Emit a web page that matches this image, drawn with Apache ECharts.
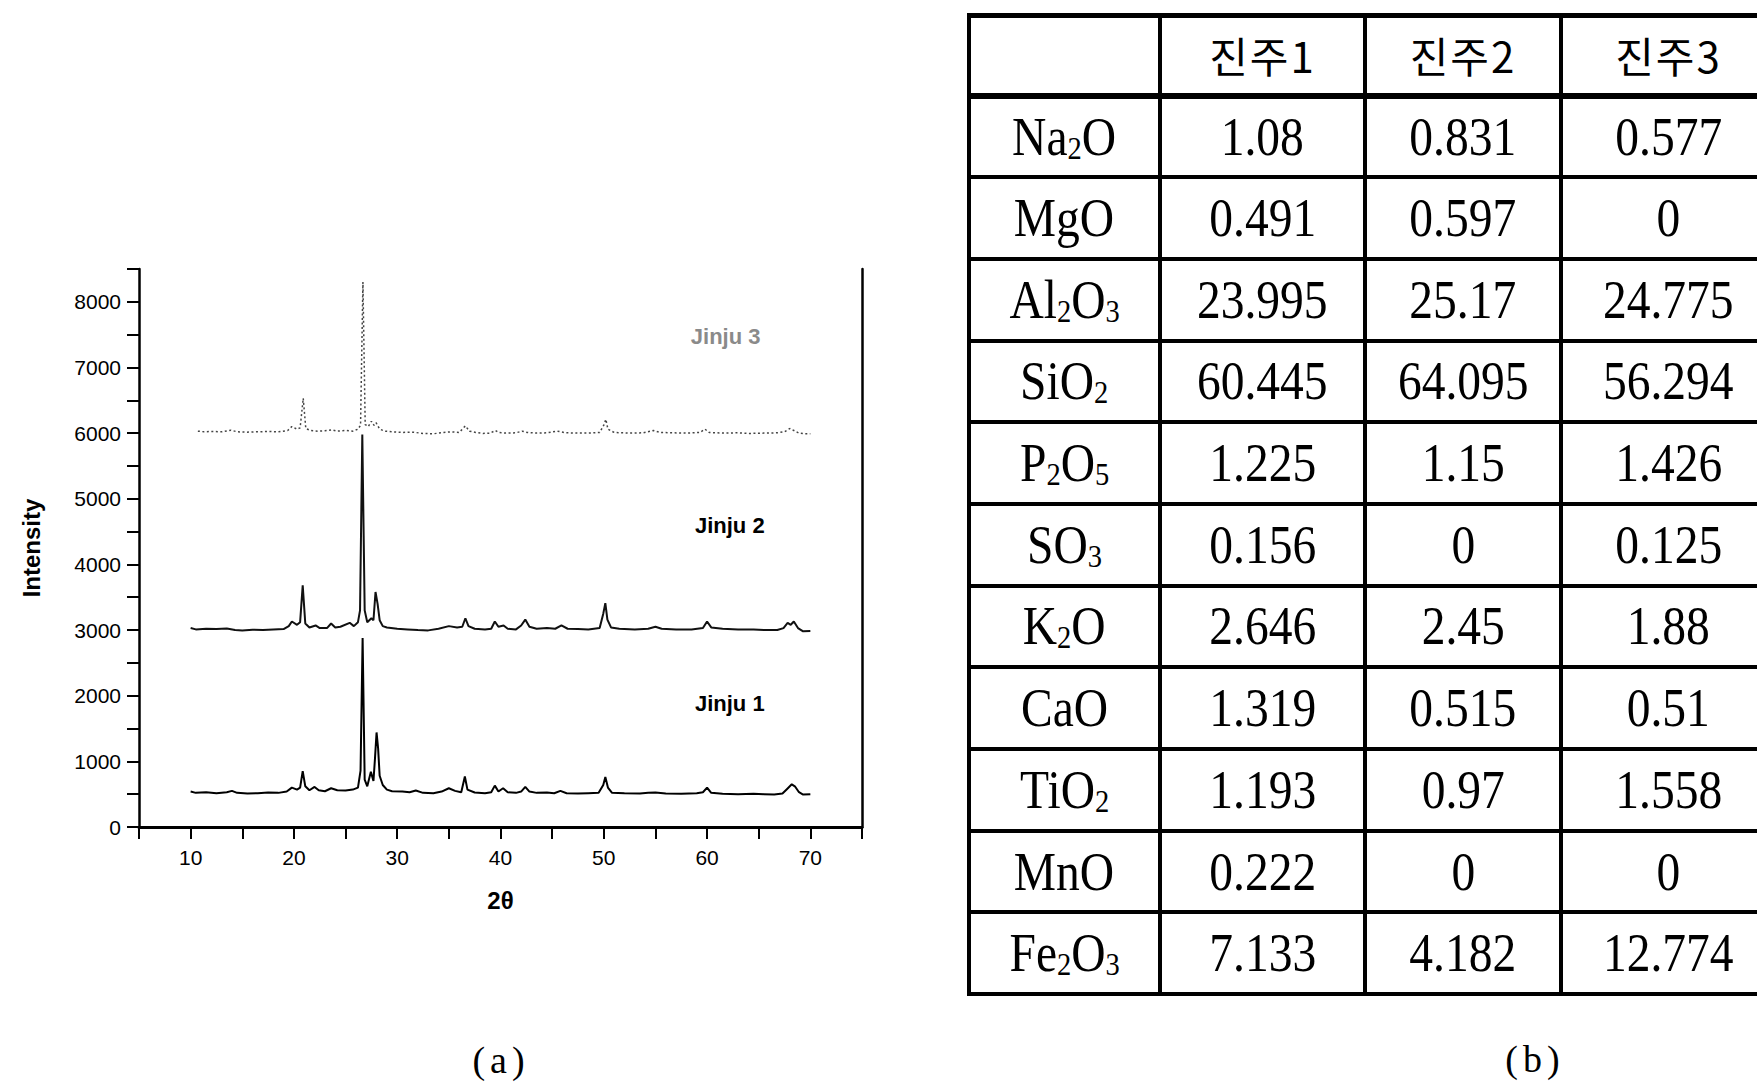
<!DOCTYPE html>
<html>
<head>
<meta charset="utf-8">
<title>XRD 패턴 및 화학조성</title>
<script src="https://cdn.jsdelivr.net/npm/echarts@6.0.0/dist/echarts.min.js"></script>
<style>
  html, body { margin: 0; padding: 0; background: #fff; }
  #page { position: relative; width: 1757px; height: 1085px; overflow: hidden; }
  #chart { position: absolute; left: 0; top: 0; width: 950px; height: 1085px; }
  #comp {
    position: absolute; left: 967px; top: 13px; width: 807px;
    border-collapse: collapse; table-layout: fixed;
    font-family: 'Liberation Serif', 'DejaVu Serif', serif; color: #000;
  }
  #comp td { border: 4px solid #000; text-align: center; vertical-align: middle; padding: 0; font-size: 54px; line-height: 1; }
  #comp tr { height: 81.7px; }
  #comp tr.head { height: 80px; }
  #comp tr.head td { border-top-width: 5px; border-bottom-width: 6px; font-family: 'Noto Sans CJK KR', sans-serif; font-size: 42px; letter-spacing: 2px; }
  #comp .sx { display: inline-block; transform: scaleX(0.88); white-space: nowrap; }
  #comp sub { font-size: 0.6em; vertical-align: -0.12em; line-height: 0; }
  .cap { position: absolute; width: 120px; text-align: center; font-family: 'Liberation Serif', serif; font-size: 38px; letter-spacing: 5px; line-height: 40px; }
</style>
</head>
<body>
<div id="page">
  <div id="chart"></div>
  <table id="comp">
    <colgroup>
      <col style="width:191px"><col style="width:205px"><col style="width:196px"><col style="width:215px">
    </colgroup>
    <tbody id="compBody"></tbody>
  </table>
  <div class="cap" style="left:441px; top:1040px;">(a)</div>
  <div class="cap" style="left:1475px; top:1039px;">(b)</div>
</div>

<script>
// XRD patterns, [2theta, intensity]
const jinju1 = [
  [10.0, 540], [10.5, 520], [11.5, 530], [12.5, 515], [13.5, 530], [14.0, 550], [14.5, 520],
  [15.5, 510], [16.5, 515], [17.5, 525], [18.5, 520], [19.3, 540], [19.8, 600], [20.3, 570],
  [20.6, 600], [20.85, 850], [21.1, 620], [21.5, 560], [22.0, 610], [22.4, 560], [23.0, 545],
  [23.6, 590], [24.2, 560], [25.0, 555], [25.7, 570], [26.2, 600], [26.45, 860], [26.65, 2880],
  [26.85, 720], [27.1, 620], [27.45, 840], [27.7, 700], [27.85, 1050], [28.0, 1440], [28.15, 1200],
  [28.3, 780], [28.6, 640], [29.0, 570], [29.5, 545], [30.5, 540], [31.2, 530], [31.8, 555],
  [32.5, 520], [33.5, 515], [34.3, 540], [35.0, 590], [35.6, 550], [36.2, 530], [36.55, 770],
  [36.8, 570], [37.5, 525], [38.5, 515], [39.1, 530], [39.45, 630], [39.8, 540], [40.25, 590],
  [40.7, 530], [41.5, 520], [42.0, 540], [42.4, 610], [42.8, 540], [43.5, 520], [44.5, 525],
  [45.2, 515], [45.8, 550], [46.4, 515], [47.5, 510], [48.5, 515], [49.5, 520], [49.95, 640],
  [50.15, 760], [50.4, 600], [50.8, 520], [52.0, 515], [53.5, 510], [54.3, 520], [55.0, 525],
  [56.0, 510], [57.5, 505], [59.0, 515], [59.6, 530], [60.0, 600], [60.4, 520], [61.5, 505],
  [63.0, 500], [64.5, 505], [65.5, 500], [66.5, 495], [67.3, 510], [67.75, 580], [68.2, 650],
  [68.5, 620], [68.9, 530], [69.3, 495], [70.0, 500]
]
const jinju2 = [
  [10.0, 3030], [10.5, 3010], [11.5, 3020], [12.5, 3015], [13.5, 3025], [14.3, 3000], [15.0, 2995],
  [16.0, 3005], [17.0, 3000], [18.0, 3010], [19.0, 3015], [19.5, 3060], [19.8, 3130], [20.3, 3080],
  [20.6, 3120], [20.85, 3680], [21.1, 3100], [21.5, 3040], [22.1, 3070], [22.5, 3030], [23.2, 3030],
  [23.6, 3100], [24.0, 3040], [24.5, 3050], [25.4, 3110], [25.8, 3060], [26.2, 3120], [26.4, 3300],
  [26.62, 5980], [26.85, 3300], [27.1, 3120], [27.5, 3180], [27.7, 3150], [27.9, 3580], [28.1, 3400],
  [28.3, 3150], [28.6, 3060], [29.0, 3040], [30.0, 3020], [31.0, 3010], [32.0, 3000], [33.0, 2995],
  [34.0, 3020], [35.0, 3060], [35.8, 3040], [36.3, 3050], [36.6, 3180], [36.9, 3060], [37.5, 3020],
  [38.5, 3010], [39.1, 3020], [39.45, 3130], [39.8, 3050], [40.3, 3070], [40.7, 3020], [41.5, 3010],
  [42.0, 3070], [42.4, 3160], [42.8, 3050], [43.5, 3020], [44.5, 3030], [45.3, 3020], [45.9, 3070],
  [46.5, 3020], [47.5, 3015], [48.5, 3010], [49.6, 3030], [49.95, 3250], [50.15, 3410], [50.35, 3160],
  [50.7, 3040], [51.5, 3020], [53.0, 3010], [54.3, 3020], [55.0, 3050], [55.6, 3020], [57.0, 3010],
  [58.5, 3010], [59.6, 3030], [60.0, 3130], [60.4, 3040], [61.5, 3020], [63.0, 3010], [64.5, 3010],
  [65.5, 3000], [66.8, 3000], [67.4, 3030], [67.8, 3110], [68.1, 3080], [68.4, 3130], [68.8, 3030],
  [69.3, 2980], [70.0, 2985]
]
const jinju3 = [
  [10.7, 6030], [11.3, 6020], [12.0, 6025], [13.0, 6020], [13.9, 6045], [14.5, 6020], [15.5, 6015],
  [16.5, 6020], [17.5, 6025], [18.5, 6020], [19.4, 6040], [19.8, 6100], [20.3, 6060], [20.6, 6080],
  [20.9, 6530], [21.15, 6070], [21.6, 6040], [22.3, 6030], [23.0, 6035], [23.7, 6050], [24.2, 6030],
  [25.0, 6040], [25.7, 6030], [26.2, 6060], [26.45, 6120], [26.68, 8300], [26.9, 6130], [27.2, 6100],
  [27.5, 6180], [27.75, 6120], [27.95, 6160], [28.3, 6060], [28.8, 6030], [29.5, 6020], [30.5, 6010],
  [31.5, 6015], [32.5, 5995], [33.5, 5990], [34.5, 6010], [35.2, 6020], [36.0, 6010], [36.6, 6110],
  [37.0, 6030], [37.6, 6010], [38.3, 5995], [39.0, 6000], [39.5, 6040], [39.8, 6010], [40.5, 6000],
  [41.5, 6005], [42.1, 6030], [42.6, 6010], [43.5, 6000], [44.5, 6005], [45.5, 6030], [46.3, 6005],
  [47.5, 6000], [48.5, 6000], [49.6, 6010], [50.0, 6120], [50.2, 6210], [50.4, 6060], [51.0, 6010],
  [52.5, 6000], [53.8, 6005], [54.8, 6040], [55.5, 6010], [56.5, 6005], [58.0, 6000], [59.3, 6010],
  [59.8, 6060], [60.2, 6010], [61.5, 6000], [63.0, 6005], [64.0, 5995], [65.5, 6000], [66.8, 6005],
  [67.5, 6020], [68.0, 6070], [68.4, 6040], [68.9, 6000], [69.4, 5990], [70.0, 5990]
]
const sampleNames = ['Jinju 1', 'Jinju 2', 'Jinju 3']
// where each sample name sits, in data units
const nameAnchors = [[62.2, 1888], [62.2, 4590], [61.8, 7476]]
const xTickLabels = [10, 20, 30, 40, 50, 60, 70]
const yTickLabels = [0, 1000, 2000, 3000, 4000, 5000, 6000, 7000, 8000]

// chemical composition table (b)
const compHeader = ['진주1', '진주2', '진주3']
const oxides = ['Na2O', 'MgO', 'Al2O3', 'SiO2', 'P2O5', 'SO3', 'K2O', 'CaO', 'TiO2', 'MnO', 'Fe2O3']
const comp1 = [1.08, 0.491, 23.995, 60.445, 1.225, 0.156, 2.646, 1.319, 1.193, 0.222, 7.133]
const comp2 = [0.831, 0.597, 25.17, 64.095, 1.15, 0, 2.45, 0.515, 0.97, 0, 4.182]
const comp3 = [0.577, 0, 24.775, 56.294, 1.426, 0.125, 1.88, 0.51, 1.558, 0, 12.774]

function buildTable() {
  const body = document.getElementById('compBody')
  let html = '<tr class="head"><td></td>'
  compHeader.forEach(h => { html += '<td>' + h + '</td>' })
  html += '</tr>'
  oxides.forEach((ox, i) => {
    const formula = ox.replace(/(\d)/g, '<sub>$1</sub>')
    html += '<tr><td><span class="sx">' + formula + '</span></td>'
    ;[comp1, comp2, comp3].forEach(col => {
      html += '<td><span class="sx">' + col[i] + '</span></td>'
    })
    html += '</tr>'
  })
  body.innerHTML = html
}

function initChart() {
  const chart = echarts.init(document.getElementById('chart'), null, { renderer: 'svg' })
  const font = "'Liberation Sans', Arial, sans-serif"
  const lineSeries = (data, idx, style, labelColor) => ({
    name: sampleNames[idx],
    type: 'line',
    data: data,
    showSymbol: false,
    silent: true,
    lineStyle: style,
    markPoint: {
      symbol: 'circle',
      symbolSize: 0,
      silent: true,
      label: {
        show: true,
        position: 'inside',
        formatter: sampleNames[idx],
        fontFamily: font,
        fontWeight: 'bold',
        fontSize: 22,
        color: labelColor
      },
      data: [{ coord: nameAnchors[idx] }]
    }
  })

  chart.setOption({
    animation: false,
    backgroundColor: '#fff',
    grid: { left: 139, top: 269, width: 723, height: 558 },
    xAxis: [
      {
        type: 'value',
        min: 5,
        max: 75,
        interval: 5,
        name: '2θ',
        nameLocation: 'middle',
        nameGap: 61,
        nameTextStyle: { fontFamily: font, fontWeight: 'bold', fontSize: 24, color: '#000' },
        axisLine: { lineStyle: { color: '#000', width: 2.5 } },
        axisTick: { length: 12, lineStyle: { color: '#000', width: 2 } },
        axisLabel: {
          margin: 20,
          fontFamily: font,
          fontSize: 21,
          color: '#000',
          formatter: v => (xTickLabels.indexOf(v) >= 0 ? String(v) : '')
        },
        splitLine: { show: false }
      },
      {
        // top frame
        type: 'value', position: 'top', min: 5, max: 75,
        axisLine: { show: true, lineStyle: { color: '#000', width: 3 } },
        axisTick: { show: false }, axisLabel: { show: false }, splitLine: { show: false }
      }
    ],
    yAxis: [
      {
        type: 'value',
        min: 0,
        max: 8500,
        interval: 500,
        name: 'Intensity',
        nameLocation: 'middle',
        nameRotate: 90,
        nameGap: 96,
        nameTextStyle: { fontFamily: font, fontWeight: 'bold', fontSize: 24, color: '#000' },
        axisLine: { show: true, lineStyle: { color: '#000', width: 2.5 } },
        axisTick: { show: true, length: 12, lineStyle: { color: '#000', width: 2 } },
        axisLabel: {
          margin: 18,
          fontFamily: font,
          fontSize: 21,
          color: '#000',
          formatter: v => (yTickLabels.indexOf(v) >= 0 ? String(v) : '')
        },
        splitLine: { show: false }
      },
      {
        // right frame
        type: 'value', position: 'right', min: 0, max: 8500,
        axisLine: { show: true, lineStyle: { color: '#000', width: 2.5 } },
        axisTick: { show: false }, axisLabel: { show: false }, splitLine: { show: false }
      }
    ],
    series: [
      lineSeries(jinju1, 0, { color: '#000', width: 2 }, '#000'),
      lineSeries(jinju2, 1, { color: '#111', width: 2 }, '#000'),
      lineSeries(jinju3, 2, { color: '#444', width: 1.5, type: [2, 2.5] }, '#8a8a8a')
    ]
  })
  return chart
}

buildTable()
initChart()
</script>
</body>
</html>
